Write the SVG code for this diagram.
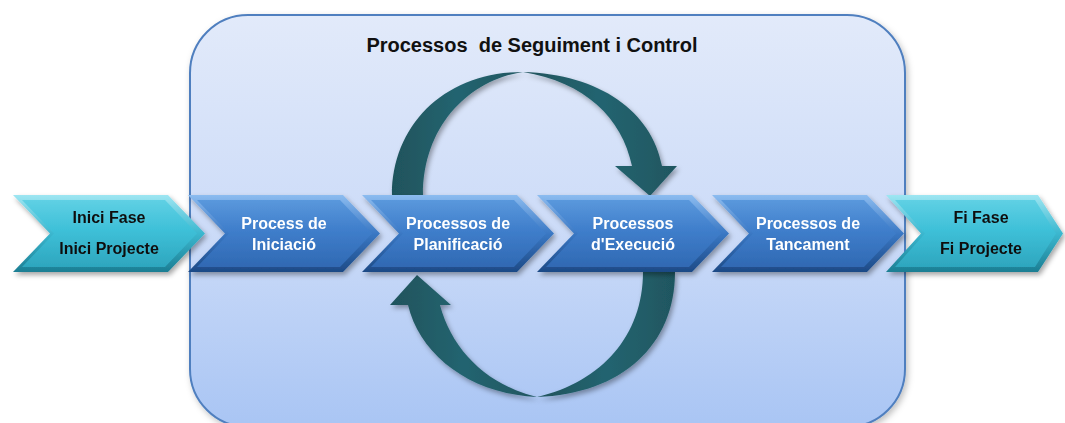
<svg xmlns="http://www.w3.org/2000/svg" width="1065" height="423" viewBox="0 0 1065 423">
<defs>
  <linearGradient id="gBox" x1="0" y1="0" x2="0" y2="1">
    <stop offset="0" stop-color="#e2eafa"/>
    <stop offset="0.5" stop-color="#cddcf8"/>
    <stop offset="1" stop-color="#a9c5f4"/>
  </linearGradient>
  <linearGradient id="gBlueEdge" x1="0" y1="0" x2="0" y2="1">
    <stop offset="0" stop-color="#8cbcf0"/>
    <stop offset="0.5" stop-color="#3a78c4"/>
    <stop offset="1" stop-color="#1d4a86"/>
  </linearGradient>
  <linearGradient id="gBlueFace" x1="0" y1="0" x2="0" y2="1">
    <stop offset="0" stop-color="#5a98dc"/>
    <stop offset="0.45" stop-color="#3f7ecb"/>
    <stop offset="1" stop-color="#3069b3"/>
  </linearGradient>
  <linearGradient id="gCyanEdge" x1="0" y1="0" x2="0" y2="1">
    <stop offset="0" stop-color="#9ee6f2"/>
    <stop offset="0.5" stop-color="#3bb7cf"/>
    <stop offset="1" stop-color="#1c7e93"/>
  </linearGradient>
  <linearGradient id="gCyanFace" x1="0" y1="0" x2="0" y2="1">
    <stop offset="0" stop-color="#5fd0e4"/>
    <stop offset="0.45" stop-color="#3ec0d8"/>
    <stop offset="1" stop-color="#2ea6be"/>
  </linearGradient>
  <linearGradient id="gTeal" x1="0" y1="0" x2="1" y2="0">
    <stop offset="0" stop-color="#1f535c"/>
    <stop offset="0.5" stop-color="#246470"/>
    <stop offset="1" stop-color="#1f5660"/>
  </linearGradient>
  <filter id="shadow" x="-10%" y="-10%" width="130%" height="130%">
    <feDropShadow dx="2" dy="3" stdDeviation="2.5" flood-color="#000" flood-opacity="0.35"/>
  </filter>
  <filter id="shadowBox" x="-5%" y="-5%" width="110%" height="115%">
    <feDropShadow dx="2" dy="3" stdDeviation="3" flood-color="#000" flood-opacity="0.25"/>
  </filter>
  <g id="chevBlue">
    <polygon points="0,0 155,0 192,38.5 155,77 0,77 37,38.5" fill="url(#gBlueEdge)"/>
    <polygon points="9,5 152,5 184,38.5 152,72 9,72 41,38.5" fill="url(#gBlueFace)"/>
  </g>
  <g id="chevCyan">
    <polygon points="0,0 155,0 192,38.5 155,77 0,77 37,38.5" fill="url(#gCyanEdge)"/>
    <polygon points="9,5 152,5 184,38.5 152,72 9,72 41,38.5" fill="url(#gCyanFace)"/>
  </g>
</defs>
<style>
  .wt { font-family: "Liberation Sans", Arial, sans-serif; font-weight: bold; font-size: 16px; fill: #ffffff; text-anchor: middle; }
  .dk { font-family: "Liberation Sans", Arial, sans-serif; font-weight: bold; font-size: 16px; fill: #111111; text-anchor: middle; }
  .title { font-family: "Liberation Sans", Arial, sans-serif; font-weight: bold; font-size: 20px; fill: #111111; text-anchor: middle; }
  .loop { fill: url(#gTeal); filter: url(#shadow); }
</style>
<rect width="1065" height="423" fill="#ffffff"/>

<g id="control-box">
  <rect x="190" y="15" width="715" height="412" rx="58" ry="58" fill="url(#gBox)" stroke="#4f7fbf" stroke-width="2" filter="url(#shadowBox)"/>
  <text class="title" x="532" y="52" xml:space="preserve">Processos  de Seguiment i Control</text>
</g>

<g id="connectors">
  <path class="loop" d="M392,195 C392,125 445,72 523,72 C470,80 423,125 423,195 Z"/>
  <path class="loop" d="M523,72 C600,74 652,112 662,166 L677,166 L650,196 L615,166 L632,166 C622,118 585,82 523,72 Z"/>
  <path class="loop" d="M643,272 L675,272 C675,345 622,394 537,397 C602,382 643,335 643,272 Z"/>
  <path class="loop" d="M537,397 C470,394 420,355 408,305 L390,305 L417,275 L451,305 L440,305 C452,350 487,385 537,397 Z"/>
</g>

<g id="node-inici" filter="url(#shadow)">
  <use href="#chevCyan" x="13" y="195"/>
  <text class="dk" x="109" y="223">Inici Fase</text>
  <text class="dk" x="109" y="254">Inici Projecte</text>
</g>
<g id="node-iniciacio" filter="url(#shadow)">
  <use href="#chevBlue" x="188" y="195"/>
  <text class="wt" x="284" y="229">Process de</text>
  <text class="wt" x="284" y="250">Iniciació</text>
</g>
<g id="node-planificacio" filter="url(#shadow)">
  <use href="#chevBlue" x="362" y="195"/>
  <text class="wt" x="458" y="229">Processos de</text>
  <text class="wt" x="458" y="250">Planificació</text>
</g>
<g id="node-execucio" filter="url(#shadow)">
  <use href="#chevBlue" x="537" y="195"/>
  <text class="wt" x="633" y="229">Processos</text>
  <text class="wt" x="633" y="250">d'Execució</text>
</g>
<g id="node-tancament" filter="url(#shadow)">
  <use href="#chevBlue" x="712" y="195"/>
  <text class="wt" x="808" y="229">Processos de</text>
  <text class="wt" x="808" y="250">Tancament</text>
</g>
<g id="node-fi" filter="url(#shadow)">
  <polygon points="886,195 1038,195 1063,233.5 1038,272 886,272 921,233.5" fill="url(#gCyanEdge)"/>
  <polygon points="895,200 1035,200 1056,233.5 1035,267 895,267 925,233.5" fill="url(#gCyanFace)"/>
  <text class="dk" x="981" y="223">Fi Fase</text>
  <text class="dk" x="981" y="254">Fi Projecte</text>
</g>
</svg>
